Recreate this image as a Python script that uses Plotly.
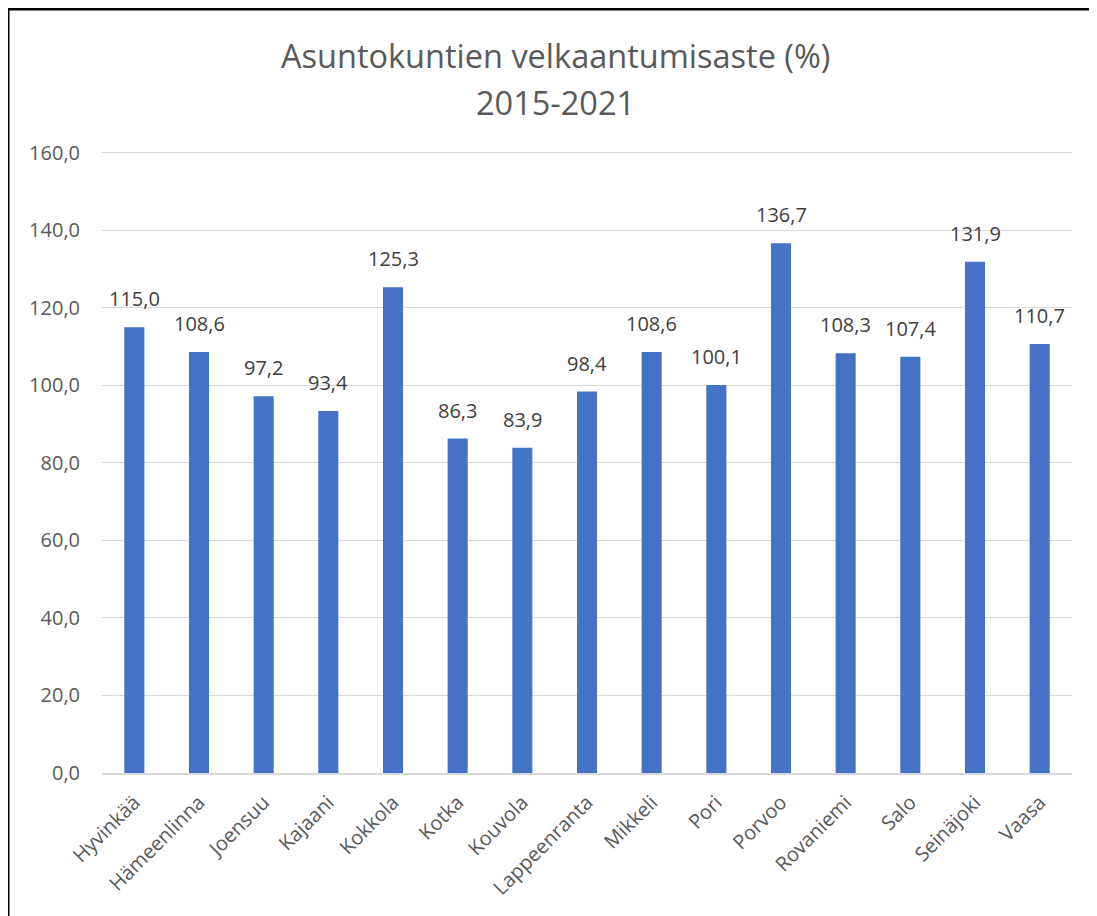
import plotly.graph_objects as go

categories = ["Hyvinkää", "Hämeenlinna", "Joensuu", "Kajaani", "Kokkola", "Kotka", "Kouvola",
              "Lappeenranta", "Mikkeli", "Pori", "Porvoo", "Rovaniemi", "Salo", "Seinäjoki", "Vaasa"]
values = [115.0, 108.6, 97.2, 93.4, 125.3, 86.3, 83.9, 98.4, 108.6, 100.1, 136.7, 108.3, 107.4, 131.9, 110.7]
y_ticks = [0, 20, 40, 60, 80, 100, 120, 140, 160]

OFF = 8  # browser body margin
YMAX = 161.0
W, H = 1097 - OFF, 916 - OFF
L = 102 - OFF
T = 153 - OFF - round(620 * (YMAX - 160) / 160)
R = W - (1072 - OFF)
B = H - (773 - OFF)
pw, ph = W - L - R, H - T - B

def px(x):
    return (x - OFF - L) / pw

def py(y):
    return 1 - (y - OFF - T) / ph

FONT = "Open Sans"
FS = 20

fig = go.Figure(go.Bar(
    x=categories, y=values,
    marker=dict(color="#4472C4", line=dict(width=0)),
    hovertemplate="%{x}: %{y:.1f}<extra></extra>",
))

label_annotations = [
    dict(x=c, y=v, xref="x", yref="y", text=f"{v:.1f}".replace(".", ","),
         showarrow=False, xanchor="center", yanchor="bottom", yshift=13,
         font=dict(family=FONT, size=FS, color="#404040"))
    for c, v in zip(categories, values)
]

fig.update_layout(
    width=W, height=H,
    margin=dict(l=L, r=R, t=T, b=B),
    paper_bgcolor="white", plot_bgcolor="white",
    separators=", ",
    bargap=0.69,
    showlegend=False,
    font=dict(family=FONT, color="#595959"),
    annotations=[
        dict(text="Asuntokuntien velkaantumisaste (%)", xref="paper", yref="paper", x=px(555), y=py(55),
             xanchor="center", yanchor="middle", showarrow=False,
             font=dict(family=FONT, size=32.5, color="#595959")),
        dict(text="2015-2021", xref="paper", yref="paper", x=px(555), y=py(102),
             xanchor="center", yanchor="middle", showarrow=False,
             font=dict(family=FONT, size=32.5, color="#595959")),
    ] + label_annotations,
    shapes=[
        dict(type="line", xref="paper", yref="paper", x0=px(8), x1=px(1120), y0=py(9), y1=py(9),
             line=dict(color="black", width=3)),
        dict(type="line", xref="paper", yref="paper", x0=px(8), x1=px(8), y0=py(9), y1=py(940),
             line=dict(color="black", width=3)),
    ],
)

fig.update_yaxes(range=[0, YMAX], tickvals=y_ticks, tickformat=".1f",
                 showgrid=True, gridcolor="#d9d9d9", gridwidth=1,
                 zeroline=False, showline=False, ticks="",
                 tickfont=dict(family=FONT, size=FS, color="#595959"),
                 ticklabelstandoff=21)
fig.update_xaxes(tickangle=-45, showline=True, linecolor="#d9d9d9", linewidth=1.5,
                 ticks="", tickfont=dict(family=FONT, size=FS, color="#595959"),
                 ticklabelstandoff=8, showgrid=False)

fig.write_html("out.html")
